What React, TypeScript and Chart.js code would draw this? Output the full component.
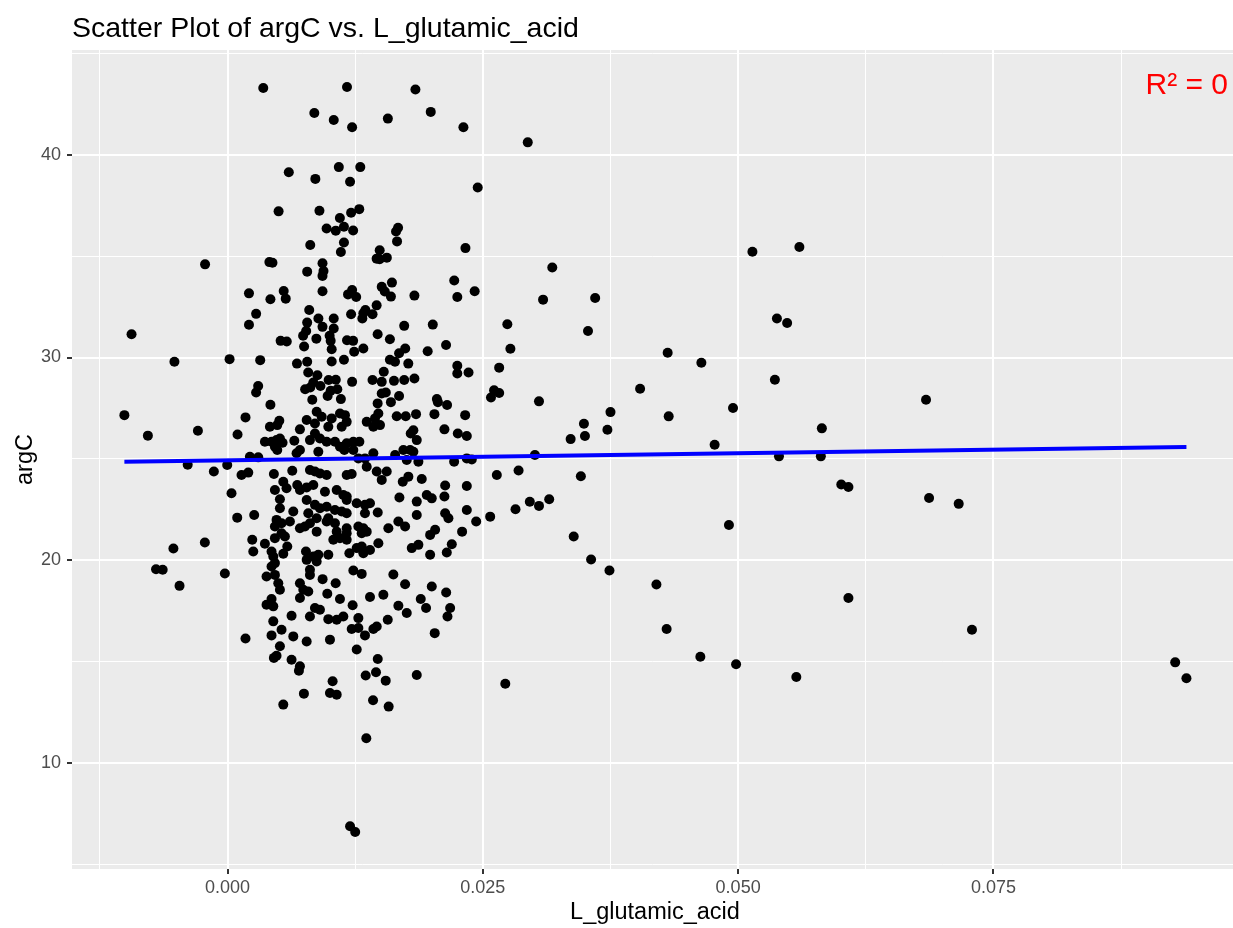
import React, { useEffect, useRef } from "react";
import { Chart, registerables } from "chart.js";

Chart.register(...registerables);

// [L_glutamic_acid, argC] observations, grouped by region of the plot
const pointsTop: [number, number][] = [
  [0.0035, 43.28], [0.0117, 43.33], [0.0184, 43.2], [0.0085, 42.05], [0.0104, 41.7], [0.0122, 41.34], [0.0157, 41.77], [0.0199, 42.1], [0.0231, 41.34], [0.006, 39.13],
  [0.0086, 38.8], [0.0109, 39.38], [0.013, 39.38], [0.012, 38.66], [0.0245, 38.38], [0.005, 37.2], [0.009, 37.23], [0.011, 36.87], [0.0121, 37.13], [0.0129, 37.31],
  [0.0097, 36.36], [0.0106, 36.25], [0.0114, 36.44], [0.0123, 36.26], [0.0114, 35.67], [0.0081, 35.54], [0.0111, 35.2], [0.0165, 36.21], [0.0167, 36.39], [0.0166, 35.72],
  [0.0149, 35.28], [0.0146, 34.87], [0.0149, 34.84], [0.0156, 34.92], [0.0233, 35.39], [-0.0022, 34.59], [0.0041, 34.7], [0.0044, 34.67], [0.0093, 34.64], [0.0094, 34.26],
  [0.0093, 34.02], [0.0078, 34.23], [0.0021, 33.16], [0.0042, 32.87], [0.0055, 33.28], [0.0057, 32.9], [0.0093, 33.26], [0.0118, 33.11], [0.0122, 33.33], [0.0126, 32.98],
  [0.0151, 33.48], [0.0154, 33.25], [0.0161, 33.69], [0.016, 33.0], [0.0183, 33.05], [0.0222, 33.79], [0.0225, 32.98], [0.0242, 33.26], [0.0028, 32.15], [0.0021, 31.61],
  [0.008, 32.34], [0.0089, 31.92], [0.0104, 31.92], [0.0093, 31.51], [0.0104, 31.43], [0.0078, 31.72], [0.0077, 31.31], [0.0074, 31.07], [0.0087, 30.93], [0.01, 31.07],
  [0.0101, 30.82], [0.0121, 32.13], [0.0133, 32.18], [0.0135, 32.34], [0.0142, 32.13], [0.0146, 32.57], [0.0132, 31.92], [0.0147, 31.15], [0.0159, 30.9], [0.0173, 31.56],
  [0.0201, 31.62], [0.0117, 30.85], [0.0123, 30.82], [0.0124, 30.28], [0.0133, 30.44], [0.0052, 30.82], [0.0058, 30.79], [0.0075, 30.54], [0.0102, 30.41], [0.0214, 30.62],
  [0.0196, 30.31], [0.0174, 30.44], [0.0168, 30.21], [0.0002, 29.92], [0.0032, 29.87], [0.0068, 29.7], [0.0078, 29.79], [0.0079, 29.26], [0.0102, 29.8], [0.0114, 29.89],
  [0.0159, 29.89], [0.0164, 29.79], [0.0177, 29.7], [0.0225, 29.59], [0.0225, 29.21], [0.0236, 29.26], [0.0153, 29.3], [0.0122, 28.8], [0.0142, 28.89], [0.0151, 28.8],
  [0.0163, 28.85], [0.0173, 28.89], [0.0183, 28.97], [0.003, 28.6], [0.0028, 28.28], [0.0042, 27.67], [0.0088, 29.13], [0.0084, 28.77], [0.0099, 28.89], [0.0106, 28.9],
  [0.0076, 28.44], [0.0081, 28.52], [0.0091, 28.6], [0.0101, 28.36], [0.01075, 28.44], [0.0098, 28.1], [0.0083, 27.92], [0.0111, 27.95], [0.0151, 28.23], [0.0155, 28.28],
  [0.0168, 28.1], [0.0147, 27.74], [0.016, 27.8], [0.0205, 27.95], [0.0206, 27.8], [0.0215, 27.66], [0.0266, 29.5],
];

const pointsRight: [number, number][] = [
  [0.0294, 40.6], [0.0318, 34.43], [0.0309, 32.85], [0.036, 32.93], [0.0353, 31.31], [0.0274, 31.64], [0.0277, 30.43], [0.0261, 28.39], [0.0266, 28.25], [0.0258, 28.03],
  [0.0305, 27.84], [0.0349, 26.74], [0.035, 26.13], [0.0336, 25.98], [0.0372, 26.44], [0.0375, 27.31], [0.0404, 28.46], [0.0431, 30.23], [0.0464, 29.74], [0.0432, 27.1],
  [0.0495, 27.51], [0.0477, 25.7], [0.0536, 28.9], [0.0514, 35.21], [0.056, 35.44], [0.0538, 31.92], [0.0548, 31.7], [0.0582, 26.51], [0.0301, 25.2], [0.054, 25.13], [0.0581, 25.13],
  [0.0285, 24.43], [0.0346, 24.15], [0.0282, 22.52], [0.0296, 22.89], [0.0305, 22.69], [0.0315, 23.02], [0.0339, 21.18], [0.0491, 21.75], [0.0601, 23.74], [0.0608, 23.62],
  [0.0356, 20.05], [0.0374, 19.51], [0.042, 18.82], [0.0608, 18.15], [0.043, 16.62], [0.0463, 15.26], [0.0498, 14.89], [0.0557, 14.26], [0.0272, 13.93],
  [0.0684, 27.92], [0.0687, 23.08], [0.0716, 22.79], [0.0729, 16.59], [0.0928, 14.98], [0.0939, 14.2],
];

const pointsLeft: [number, number][] = [
  [-0.0094, 31.15], [-0.0052, 29.79], [-0.0101, 27.16], [-0.0078, 26.15], [-0.0029, 26.39], [-0.0039, 24.72],
  [-0.0053, 20.59], [-0.007, 19.57], [-0.00635, 19.54], [-0.0047, 18.75],
  [0.012, 6.91], [0.0125, 6.62],
];

const pointsMiddle: [number, number][] = [
  [0.00176, 27.05], [0.00507, 26.88], [0.00487, 26.67], [0.00415, 26.59], [0.00709, 26.46], [0.00775, 26.92], [0.00873, 27.33], [0.00856, 26.75], [0.00922, 27.08], [0.00987, 26.59],
  [0.0102, 27.0], [0.01101, 27.24], [0.0115, 27.16], [0.01118, 26.59], [0.01167, 26.83], [0.01363, 26.83], [0.01444, 27.0], [0.01477, 27.24], [0.01428, 26.59], [0.01493, 26.67],
  [0.01657, 27.11], [0.01745, 27.11], [0.01846, 27.21], [0.01794, 26.26], [0.0182, 26.42], [0.01853, 25.93], [0.02026, 27.21], [0.02124, 26.46], [0.02255, 26.26], [0.02343, 26.13], [0.02327, 27.16],
  [0.00098, 26.21], [0.00219, 25.11], [0.00301, 25.08], [0.00366, 25.85], [0.00431, 25.85], [0.0048, 25.93], [0.00513, 26.01], [0.00539, 25.8], [0.00654, 25.9], [0.00487, 25.44],
  [0.00464, 25.6], [0.00676, 25.28], [0.00709, 25.44], [0.00807, 25.93], [0.00889, 25.36], [0.00856, 26.26], [0.00905, 26.01], [0.00971, 25.85], [0.01052, 25.85], [0.01101, 25.6],
  [0.01167, 25.77], [0.01232, 25.85], [0.01291, 25.85], [0.01144, 25.44], [0.01232, 25.44], [0.01281, 25.03], [0.01346, 25.03], [0.01428, 25.28], [0.01363, 24.62], [0.01461, 24.38],
  [0.0151, 23.97], [0.01559, 24.38], [0.01641, 25.2], [0.01722, 25.44], [0.01755, 24.95], [0.01788, 25.44], [0.0182, 25.36], [0.01869, 24.87], [0.02219, 24.87], [0.02343, 25.03], [0.02392, 24.98],
];

const pointsLower: [number, number][] = [
  [-0.00134, 24.38], [-0.00003, 24.7], [0.00137, 24.21], [0.00203, 24.33], [0.00454, 24.26], [0.00634, 24.42], [0.00807, 24.46], [0.00856, 24.38], [0.00905, 24.29], [0.00971, 24.21],
  [0.01167, 24.21], [0.01216, 24.26], [0.00546, 23.88], [0.00578, 23.56], [0.00683, 23.72], [0.00464, 23.47], [0.00709, 23.47], [0.00775, 23.6], [0.0084, 23.72], [0.00954, 23.39],
  [0.01069, 23.47], [0.01134, 23.23], [0.01167, 23.15], [0.00039, 23.31], [0.01683, 23.1], [0.01716, 23.88], [0.01771, 24.13], [0.01902, 24.01], [0.01951, 23.23], [0.02, 23.06],
  [0.02131, 23.69], [0.02124, 23.15], [0.02343, 23.67], [0.02637, 24.21], [0.01853, 22.9],
  [0.00095, 22.11], [0.00261, 22.24], [0.00513, 23.02], [0.00513, 22.57], [0.00644, 22.41], [0.00775, 22.98], [0.00791, 22.33], [0.00856, 22.74], [0.00905, 22.57], [0.00971, 22.65],
  [0.00873, 22.08], [0.00987, 22.08], [0.01052, 22.49], [0.01118, 22.41], [0.01167, 22.98], [0.01167, 22.33], [0.01265, 22.82], [0.01346, 22.74], [0.01395, 22.82], [0.01346, 22.33],
  [0.01471, 22.36], [0.0048, 22.0], [0.00464, 21.67], [0.00529, 21.83], [0.00611, 21.92], [0.00709, 21.59], [0.00758, 21.67], [0.00807, 21.83], [0.00873, 21.42], [0.00971, 21.92],
  [0.01052, 21.83], [0.01069, 21.42], [0.01167, 21.59], [0.01281, 21.67], [0.0133, 21.59], [0.01363, 21.42], [0.01575, 21.59], [0.01673, 21.92], [0.01739, 21.67], [0.01853, 22.24],
  [0.02131, 22.33], [0.02163, 22.08], [0.02343, 22.49], [0.02572, 22.16], [0.02435, 21.92], [0.02033, 21.51], [0.01984, 21.26], [0.02297, 21.42],
];

const pointsBottom: [number, number][] = [
  [0.00242, 21.02], [0.00252, 20.44], [0.00366, 20.82], [0.00431, 20.44], [0.00448, 20.2], [0.00464, 21.1], [0.00529, 21.34], [0.00562, 21.18], [0.00585, 20.69], [0.00546, 20.33],
  [0.00464, 19.87], [0.00768, 20.44], [0.00775, 20.03], [0.0084, 20.2], [0.00889, 20.28], [0.00873, 19.95], [0.00987, 20.28], [0.01036, 21.02], [0.01101, 21.1], [0.01167, 21.02],
  [0.01193, 20.36], [0.01167, 21.34], [0.01265, 20.61], [0.01314, 20.69], [0.0133, 20.36], [0.01395, 20.52], [0.01314, 21.34], [0.01477, 20.85], [0.01804, 20.61], [0.01869, 20.77],
  [0.01984, 20.28], [0.02147, 20.39], [0.02196, 20.8], [-0.00222, 20.89], [-0.00026, 19.36],
  [0.00382, 19.21], [0.00431, 19.7], [0.00464, 19.29], [0.00497, 18.88], [0.00513, 18.56], [0.00709, 18.88], [0.00742, 18.56], [0.00807, 19.29], [0.00807, 19.54], [0.00931, 19.08],
  [0.01059, 18.88], [0.01232, 19.51], [0.01314, 19.34], [0.01624, 19.31], [0.01739, 18.83], [0.02, 18.72], [0.02141, 18.42], [0.00709, 18.15], [0.00791, 18.47], [0.00431, 18.1],
  [0.00977, 18.36], [0.01101, 18.1], [0.01395, 18.2], [0.01526, 18.31], [0.01225, 17.79], [0.01673, 17.77], [0.01755, 17.41], [0.01892, 18.1], [0.01944, 17.66], [0.0218, 17.66], [0.02154, 17.24],
  [0.00382, 17.82], [0.00448, 17.74], [0.00448, 17.0], [0.00627, 17.28], [0.00807, 17.24], [0.00856, 17.66], [0.00905, 17.57], [0.00987, 17.11], [0.01069, 17.08], [0.01134, 17.24],
  [0.01281, 17.16], [0.01216, 16.62], [0.01281, 16.67], [0.01346, 16.31], [0.01428, 16.62], [0.01461, 16.75], [0.01569, 17.08], [0.00529, 16.59], [0.00431, 16.31], [0.00644, 16.26],
  [0.00775, 16.01], [0.01003, 16.1], [0.01265, 15.61], [0.02029, 16.42],
  [0.00176, 16.16], [0.00513, 15.77], [0.0048, 15.31], [0.00454, 15.2], [0.00627, 15.11], [0.00709, 14.79], [0.00699, 14.57], [0.01471, 15.15], [0.01853, 14.36], [0.01353, 14.33],
  [0.01454, 14.49], [0.01549, 14.08], [0.01029, 14.05],
  [0.00748, 13.44], [0.00546, 12.9], [0.01003, 13.47], [0.01069, 13.39], [0.01425, 13.11], [0.01578, 12.8], [0.01359, 11.24],
];

// Linear fit
const fitIntercept = 24.94;
const fitSlope = 6.94;
const rSquaredLabel = "R\u00B2 = 0";

const xMajorTicks = [0, 0.025, 0.05, 0.075];
const yMajorTicks = [10, 20, 30, 40];

const titleText = "Scatter Plot of argC vs. L_glutamic_acid";
const xTitle = "L_glutamic_acid";
const yTitle = "argC";

const FONT = '"Liberation Sans", Arial, Helvetica, sans-serif';

function isMajor(v: number, majors: number[]) {
  return majors.some((m) => Math.abs(m - v) < 1e-7);
}

export default function App() {
  const canvasRef = useRef<HTMLCanvasElement | null>(null);

  useEffect(() => {
    const canvas = canvasRef.current;
    if (!canvas) return;
    const all = [...pointsTop, ...pointsRight, ...pointsLeft, ...pointsMiddle, ...pointsLower, ...pointsBottom];
    const scatterData = all.map(([x, y]) => ({ x, y }));
    const xs = all.map((p) => p[0]);
    const xMin = Math.min(...xs);
    const xMax = Math.max(...xs);
    const lineData = [
      { x: xMin, y: fitIntercept + fitSlope * xMin },
      { x: xMax, y: fitIntercept + fitSlope * xMax },
    ];

    const decorPlugin = {
      id: "ggDecor",
      beforeDraw(chart: any) {
        const { ctx, chartArea: a } = chart;
        ctx.save();
        ctx.fillStyle = "#FFFFFF";
        ctx.fillRect(0, 0, chart.width, chart.height);
        ctx.fillStyle = "#EBEBEB";
        ctx.fillRect(a.left, a.top, a.right - a.left, a.bottom - a.top);
        ctx.restore();
      },
      afterDraw(chart: any) {
        const { ctx, chartArea: a } = chart;
        ctx.save();
        ctx.fillStyle = "#000000";
        ctx.font = `28.5px ${FONT}`;
        ctx.textAlign = "left";
        ctx.textBaseline = "alphabetic";
        ctx.fillText(titleText, 72, 37);

        ctx.font = `23.5px ${FONT}`;
        ctx.textAlign = "center";
        ctx.textBaseline = "middle";
        ctx.fillText(xTitle, 655, 913);

        ctx.save();
        ctx.translate(26, (a.top + a.bottom) / 2);
        ctx.rotate(-Math.PI / 2);
        ctx.fillText(yTitle, 0, 0);
        ctx.restore();

        ctx.fillStyle = "#FF0000";
        ctx.font = `30px ${FONT}`;
        ctx.textAlign = "right";
        ctx.textBaseline = "alphabetic";
        ctx.fillText(rSquaredLabel, 1228, 94);
        ctx.restore();
      },
    };

    const chart = new Chart(canvas, {
      type: "scatter",
      data: {
        datasets: [
          {
            type: "line",
            label: "fit",
            data: lineData,
            borderColor: "#0000FF",
            borderWidth: 4,
            pointRadius: 0,
            fill: false,
            order: 0,
          } as any,
          {
            label: "points",
            data: scatterData,
            backgroundColor: "#000000",
            borderWidth: 0,
            pointRadius: 5,
            pointHoverRadius: 5,
            order: 1,
          },
        ],
      },
      options: {
        animation: false,
        responsive: true,
        maintainAspectRatio: false,
        devicePixelRatio: 1,
        layout: { autoPadding: false, padding: { top: 50, right: 0, bottom: 0, left: 0 } },
        plugins: {
          legend: { display: false },
          title: { display: false },
          tooltip: { enabled: false },
        },
        scales: {
          x: {
            type: "linear",
            min: -0.01523,
            max: 0.09846,
            afterFit: (s: any) => {
              s.height = 59;
              s.paddingLeft = 0;
              s.paddingRight = 0;
            },
            border: { display: false },
            grid: {
              color: "#FFFFFF",
              lineWidth: (c: any) => (c.tick && isMajor(c.tick.value, xMajorTicks) ? 2 : 1),
              tickColor: (c: any) => (c.tick && isMajor(c.tick.value, xMajorTicks) ? "#333333" : "rgba(0,0,0,0)"),
              tickLength: 5,
              tickWidth: 2,
            },
            ticks: {
              stepSize: 0.0125,
              includeBounds: false,
              autoSkip: false,
              maxRotation: 0,
              minRotation: 0,
              padding: 3,
              color: "#4D4D4D",
              font: { family: FONT, size: 18 },
              callback: (v: any) => (isMajor(Number(v), xMajorTicks) ? Number(v).toFixed(3) : ""),
            },
          },
          y: {
            type: "linear",
            min: 4.8,
            max: 45.15,
            afterFit: (s: any) => {
              s.width = 72;
              s.paddingTop = 0;
              s.paddingBottom = 0;
            },
            border: { display: false },
            grid: {
              color: "#FFFFFF",
              lineWidth: (c: any) => (c.tick && isMajor(c.tick.value, yMajorTicks) ? 2 : 1),
              tickColor: (c: any) => (c.tick && isMajor(c.tick.value, yMajorTicks) ? "#333333" : "rgba(0,0,0,0)"),
              tickLength: 5,
              tickWidth: 2,
            },
            ticks: {
              stepSize: 5,
              includeBounds: false,
              autoSkip: false,
              padding: 6,
              color: "#4D4D4D",
              font: { family: FONT, size: 18 },
              callback: (v: any) => (isMajor(Number(v), yMajorTicks) ? String(v) : ""),
            },
          },
        },
      },
      plugins: [decorPlugin],
    });

    return () => {
      chart.destroy();
    };
  }, []);

  return (
    <div style={{ position: "absolute", left: 0, top: 0, width: 1233, height: 928, background: "#FFFFFF" }}>
      <canvas ref={canvasRef} />
    </div>
  );
}
